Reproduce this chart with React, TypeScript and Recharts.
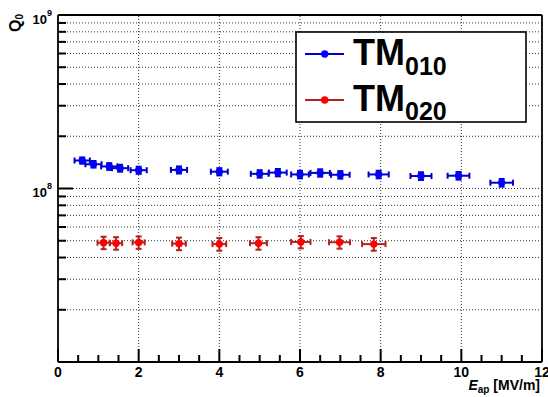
import React from 'react';
import { ScatterChart, Scatter, XAxis, YAxis, ErrorBar, ReferenceLine } from 'recharts';

// ---- data ----
const tm010X = [0.6, 0.88, 1.27, 1.54, 2.0, 3.0, 4.0, 5.0, 5.45, 6.0, 6.5, 7.0, 7.95, 9.0, 9.93, 11.0];
const tm010Q = [1.45e8, 1.38e8, 1.34e8, 1.31e8, 1.275e8, 1.28e8, 1.25e8, 1.215e8, 1.235e8, 1.205e8, 1.23e8, 1.2e8, 1.205e8, 1.18e8, 1.185e8, 1.08e8];
const tm010XErr = [0.19, 0.2, 0.2, 0.2, 0.2, 0.2, 0.21, 0.22, 0.22, 0.22, 0.24, 0.23, 0.25, 0.26, 0.27, 0.28];
const tm010QErr = [6e6, 6e6, 6e6, 6e6, 6e6, 6e6, 6e6, 6e6, 6e6, 6e6, 6e6, 6e6, 6e6, 6e6, 6e6, 5.5e6];

const tm020X = [1.13, 1.44, 2.0, 3.0, 4.0, 4.97, 6.02, 6.98, 7.83];
const tm020Q = [4.87e7, 4.84e7, 4.89e7, 4.81e7, 4.78e7, 4.84e7, 4.92e7, 4.9e7, 4.78e7];
const tm020XErr = [0.15, 0.15, 0.15, 0.17, 0.17, 0.21, 0.24, 0.26, 0.29];
const tm020QErr = [4e6, 4e6, 4e6, 4e6, 4e6, 4e6, 4e6, 4e6, 4e6];

const xTicks = [0, 0.5, 1, 1.5, 2, 2.5, 3, 3.5, 4, 4.5, 5, 5.5, 6, 6.5, 7, 7.5, 8, 8.5, 9, 9.5, 10, 10.5, 11, 11.5, 12];
const xMajorTicks = [0, 2, 4, 6, 8, 10, 12];
const xGrid = [2, 4, 6, 8, 10];
const yTicks = [1e7, 2e7, 3e7, 4e7, 5e7, 6e7, 7e7, 8e7, 9e7, 1e8, 2e8, 3e8, 4e8, 5e8, 6e8, 7e8, 8e8, 9e8, 1e9];
const yMajorTicks = [1e8, 1e9];
const yMajorLabels = ['8', '9'];
const yGrid = [2e7, 3e7, 4e7, 5e7, 6e7, 7e7, 8e7, 9e7, 1e8, 2e8, 3e8, 4e8, 5e8, 6e8, 7e8, 8e8, 9e8];

const xDomain = [0, 12];
const yDomain = [1e7, 1e9];

const FONT = '"Liberation Sans", Arial, Helvetica, sans-serif';

const tm010Data = tm010X.map((x, i) => ({ x, y: tm010Q[i], ex: tm010XErr[i], ey: tm010QErr[i] }));
const tm020Data = tm020X.map((x, i) => ({ x, y: tm020Q[i], ex: tm020XErr[i], ey: tm020QErr[i] }));

const XTick = (props: any) => {
  const { x, y, payload } = props;
  const v = payload.value;
  const major = xMajorTicks.includes(v);
  return (
    <g>
      <line x1={x} x2={x} y1={y} y2={y - (major ? 13 : 7)} stroke="#000" strokeWidth={2} />
      {major && (
        <text x={x} y={y + 15} textAnchor="middle" fontFamily={FONT} style={{ fontWeight: 700 }} fontSize={14} fill="#000">
          {v}
        </text>
      )}
    </g>
  );
};

const YTick = (props: any) => {
  const { x, y, payload } = props;
  const v = payload.value;
  const idx = yMajorTicks.indexOf(v);
  const major = idx >= 0;
  return (
    <g>
      <line x1={x} x2={x + (major ? 15 : 8)} y1={y} y2={y} stroke="#000" strokeWidth={2} />
      {major && (
        <text x={x - 6} y={y + 8.5} textAnchor="end" fontFamily={FONT} style={{ fontWeight: 700 }} fontSize={13} fill="#000">
          10
          <tspan fontSize={9} dy={-8}>
            {yMajorLabels[idx]}
          </tspan>
        </text>
      )}
    </g>
  );
};

const dot = (fill: string) => (props: any) => <circle cx={props.cx} cy={props.cy} r={3.7} fill={fill} />;

export default function App() {
  return (
    <div style={{ position: 'absolute', left: 0, top: 0, width: 548, height: 397, background: '#fff' }}>
      <ScatterChart width={548} height={397} margin={{ top: 15, right: 6, bottom: 0, left: 0 }}>
        <XAxis
          dataKey="x"
          type="number"
          domain={xDomain}
          ticks={xTicks}
          interval={0}
          allowDataOverflow
          axisLine={false}
          tickLine={false}
          tickSize={0}
          tickMargin={0}
          height={35}
          tick={<XTick />}
        />
        <YAxis
          dataKey="y"
          type="number"
          scale="log"
          domain={yDomain}
          ticks={yTicks}
          interval={0}
          allowDataOverflow
          axisLine={false}
          tickLine={false}
          tickSize={0}
          tickMargin={0}
          width={58}
          tick={<YTick />}
        />
        {yGrid.map((v) => (
          <ReferenceLine key={'gy' + v} y={v} stroke="#333" strokeWidth={1} strokeDasharray="1 2" />
        ))}
        {xGrid.map((v) => (
          <ReferenceLine key={'gx' + v} x={v} stroke="#333" strokeWidth={1} strokeDasharray="1 2" />
        ))}
        {/* frame */}
        <ReferenceLine x={xDomain[0]} stroke="#000" strokeWidth={1.8} />
        <ReferenceLine x={xDomain[1]} stroke="#000" strokeWidth={1.8} />
        <ReferenceLine y={yDomain[0]} stroke="#000" strokeWidth={1.8} />
        <ReferenceLine y={yDomain[1]} stroke="#000" strokeWidth={1.8} />
        <Scatter data={tm010Data} isAnimationActive={false} shape={dot('#0000ff')}>
          <ErrorBar dataKey="ex" direction="x" width={3} stroke="#0000c8" strokeWidth={2} />
          <ErrorBar dataKey="ey" direction="y" width={3} stroke="#0000c8" strokeWidth={2} />
        </Scatter>
        <Scatter data={tm020Data} isAnimationActive={false} shape={dot('#ff0000')}>
          <ErrorBar dataKey="ex" direction="x" width={3} stroke="#b22222" strokeWidth={2} />
          <ErrorBar dataKey="ey" direction="y" width={3} stroke="#b22222" strokeWidth={2} />
        </Scatter>
      </ScatterChart>
      <svg
        width={548}
        height={397}
        style={{ position: 'absolute', left: 0, top: 0, pointerEvents: 'none', fontWeight: 700 }}
        fontFamily={FONT}
      >
        {/* Y axis title */}
        <text transform="rotate(-90)" x={-14} y={21} textAnchor="end" fontSize={16} fill="#000">
          Q
          <tspan fontSize={10} dy={2}>
            0
          </tspan>
        </text>
        {/* X axis title */}
        <text x={540} y={390} textAnchor="end" fontSize={14} fill="#000">
          <tspan fontStyle="italic">E</tspan>
          <tspan fontSize={10} dy={3}>
            ap
          </tspan>
          <tspan dy={-3}> [MV/m]</tspan>
        </text>
        {/* Legend */}
        <rect x={296} y={32} width={230} height={90} fill="#fff" stroke="#000" strokeWidth={1.6} />
        <line x1={305} x2={344} y1={54} y2={54} stroke="#0000c8" strokeWidth={2} />
        <circle cx={324.7} cy={54} r={3.7} fill="#0000ff" />
        <text x={353} y={65} fontSize={36} fill="#000">
          TM
          <tspan fontSize={25} dy={10}>
            010
          </tspan>
        </text>
        <line x1={305} x2={344} y1={100} y2={100} stroke="#b22222" strokeWidth={2} />
        <circle cx={324.7} cy={100} r={3.7} fill="#ff0000" />
        <text x={353} y={110.5} fontSize={36} fill="#000">
          TM
          <tspan fontSize={25} dy={9.5}>
            020
          </tspan>
        </text>
      </svg>
    </div>
  );
}
